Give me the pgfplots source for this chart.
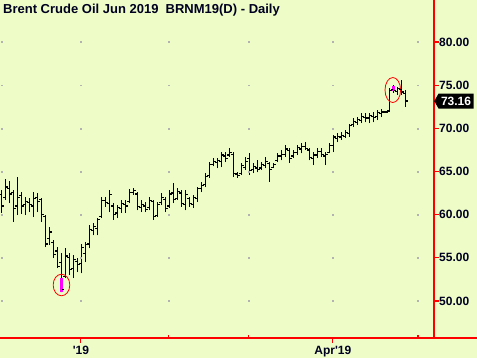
\documentclass[border=0pt]{standalone}
\usepackage{pgfplots}
\pgfplotsset{compat=1.18}
\usepackage{pgfplotstable}
\usepackage{fontspec}
\setmainfont{Liberation Sans}
\usetikzlibrary{shapes.symbols}
\definecolor{bgc}{RGB}{238,252,200}
\definecolor{txt}{RGB}{0,0,32}
\definecolor{mag}{RGB}{255,0,255}

\pgfplotstableread{
i hi lo op cl
0 62.85 60.2 62.3 61.0
1 64.1 61.7 62.0 63.2
2 63.9 61.35 63.0 62.4
3 62.85 59.15 62.6 60.7
4 64.35 59.95 61.0 62.0
5 62.6 60.1 62.2 61.0
6 62.0 59.95 61.2 61.5
7 61.9 60.3 61.4 61.2
8 62.6 59.7 61.0 61.9
9 62.5 60.3 62.0 61.5
10 61.9 59.15 61.8 60.0
11 60.0 56.25 59.8 56.6
12 58.6 56.5 57.2 58.0
13 57.1 55.0 56.8 55.4
14 56.25 53.8 55.8 54.0
15 55.55 51.0 54.5 51.3
16 56.1 52.65 52.8 55.2
17 55.5 53.0 55.0 53.6
18 55.3 52.65 53.8 54.8
19 55.0 53.35 54.6 54.2
20 56.6 53.2 54.3 56.2
21 56.8 54.5 55.5 56.5
22 58.8 56.1 56.6 58.3
23 59.0 57.6 58.2 58.6
24 59.6 57.6 58.4 59.4
25 62.0 59.6 59.8 61.6
26 62.0 60.9 61.6 61.4
27 62.85 60.3 61.3 62.3
28 61.35 59.4 61.0 60.0
29 61.1 59.6 60.2 60.8
30 61.7 60.2 60.7 61.3
31 61.7 60.2 61.2 61.0
32 63.0 61.35 61.5 62.6
33 63.1 62.3 62.6 62.8
34 62.6 60.5 62.4 60.9
35 61.7 60.3 60.8 61.2
36 61.5 60.3 61.0 60.6
37 62.0 60.5 60.8 61.6
38 61.7 59.4 61.5 59.8
39 61.5 59.7 59.9 61.2
40 62.5 61.1 61.4 62.0
41 62.0 60.3 61.8 60.7
42 62.85 60.8 61.0 62.4
43 63.65 61.35 62.5 61.8
44 63.1 61.7 61.9 62.7
45 62.85 60.9 62.5 61.3
46 62.85 60.5 61.2 62.3
47 62.0 60.9 61.9 61.3
48 62.3 60.8 61.2 62.0
49 63.2 61.5 61.9 63.0
50 63.8 62.6 63.0 63.4
51 64.8 63.2 63.5 64.4
52 66.1 64.3 64.5 65.8
53 66.6 65.6 65.8 66.2
54 66.55 65.4 66.0 66.3
55 67.25 65.5 66.2 66.9
56 67.25 66.1 66.8 66.5
57 67.7 66.7 66.9 67.2
58 67.25 64.35 67.0 64.8
59 64.9 64.25 64.7 64.5
60 66.0 64.6 64.8 65.7
61 66.7 65.2 65.5 66.2
62 67.1 64.6 66.5 65.1
63 66.0 64.8 65.2 65.6
64 66.3 64.9 65.4 65.2
65 66.1 65.2 65.4 65.8
66 66.7 65.4 65.7 66.2
67 66.1 63.8 65.9 65.2
68 66.0 65.4 65.5 65.8
69 67.1 66.1 66.3 66.8
70 67.5 66.3 66.8 67.0
71 68.1 66.7 67.0 67.6
72 67.7 66.0 67.4 66.5
73 67.5 66.55 66.8 67.2
74 68.1 66.9 67.2 67.8
75 68.3 67.1 67.6 67.9
76 68.4 67.5 67.9 67.7
77 67.7 66.3 67.5 66.6
78 67.25 65.75 66.5 66.9
79 67.7 66.55 66.9 67.3
80 67.7 66.7 67.3 67.0
81 67.25 65.75 66.8 67.0
82 68.3 67.1 67.2 68.0
83 69.2 67.25 68.0 69.0
84 69.45 68.4 68.8 69.1
85 69.6 68.65 69.0 69.2
86 69.8 68.9 69.1 69.5
87 70.5 69.0 69.4 70.3
88 71.2 70.15 70.4 70.8
89 71.3 70.4 70.7 71.0
90 71.8 70.6 70.9 71.4
91 71.8 70.7 71.3 71.2
92 71.8 70.6 71.2 71.5
93 71.9 70.7 71.4 71.3
94 72.1 70.95 71.4 71.8
95 72.2 71.3 71.7 71.9
96 72.0 71.8 71.9 71.9
97 74.7 71.9 72.0 74.4
98 75.0 74.1 74.5 74.4
99 74.8 73.9 74.3 74.6
100 75.6 73.9 74.5 74.2
101 74.4 72.5 74.0 73.16
}\bars

\pgfplotstableread{
i lo hi
15 51.0 52.65
98 74.37 74.95
}\magbars

\begin{document}
\begin{tikzpicture}
\useasboundingbox (0,-20pt) rectangle (477pt,338pt);
\fill[bgc] (0,-20pt) rectangle (477pt,338pt);
\begin{axis}[
  at={(0,0)}, anchor=south west,
  width=434pt, height=338pt, scale only axis,
  xmin=-0.325, xmax=108.2, ymin=45.71, ymax=84.87,
  axis x line*=bottom, axis y line*=right,
  axis line style={red, line width=1.2pt, -},
  clip=false,
  tick align=outside,
  major tick length=5pt,
  tick style={red, line width=1.2pt},
  ytick={50,55,...,80},
  yticklabel style={font=\fontsize{12}{14}\selectfont\bfseries, text=txt, anchor=west, inner sep=0pt,
    /pgf/number format/fixed, /pgf/number format/fixed zerofill,
    /pgf/number format/precision=2, /pgf/number format/assume math mode=true},
  xtick={19.9,82.9},
  xticklabels={\textquotesingle19, Apr\textquotesingle19},
  xticklabel style={font=\fontsize{12}{14}\selectfont\bfseries, text=txt},
  extra x ticks={41.9,61.9,104.2},
  extra x tick labels={},
  extra x tick style={tick align=inside, major tick length=2.5pt},
]
% grid dots
\addplot[only marks, mark=square*, mark size=0.45pt, color=gray!60, forget plot] coordinates {
(0.1,50) (0.1,55) (0.1,60) (0.1,65) (0.1,70) (0.1,75) (0.1,80)
(19.9,50) (19.9,55) (19.9,60) (19.9,65) (19.9,70) (19.9,75) (19.9,80)
(41.9,50) (41.9,55) (41.9,60) (41.9,65) (41.9,70) (41.9,75) (41.9,80)
(61.9,50) (61.9,55) (61.9,60) (61.9,65) (61.9,70) (61.9,75) (61.9,80)
(82.9,50) (82.9,55) (82.9,60) (82.9,65) (82.9,70) (82.9,75) (82.9,80)
(104.2,50) (104.2,55) (104.2,60) (104.2,65) (104.2,70) (104.2,75) (104.2,80)
};
% high-low bars
\addplot[draw=none, mark=none, forget plot,
  error bars/.cd, y dir=plus, y explicit, error mark=none,
  error bar style={draw=black, line width=1.2pt, solid}]
  table[x=i, y=lo, y error plus expr=\thisrow{hi}-\thisrow{lo}] {\bars};
% open ticks
\addplot[only marks, mark=-, mark size=1pt, forget plot,
  mark options={draw=black, line width=1.2pt, xshift=-1.3pt}]
  table[x=i, y=op] {\bars};
% close ticks
\addplot[only marks, mark=-, mark size=1pt, forget plot,
  mark options={draw=black, line width=1.2pt, xshift=1.3pt}]
  table[x=i, y=cl] {\bars};
% magenta highlights
\addplot[draw=none, mark=none, forget plot,
  error bars/.cd, y dir=plus, y explicit, error mark=none,
  error bar style={draw=mag, line width=3pt, solid}]
  table[x=i, y=lo, y error plus expr=\thisrow{hi}-\thisrow{lo}] {\magbars};
\draw[red, line width=0.8pt] (axis cs:15.05,51.85) ellipse [x radius=8.3pt, y radius=10.8pt];
\draw[red, line width=0.8pt] (axis cs:97.9,74.44) ellipse [x radius=7.8pt, y radius=12.5pt];
\node[signal, signal to=west, signal pointer angle=120, fill=black, text=white,
  font=\fontsize{12}{14}\selectfont\bfseries, inner xsep=2.5pt, inner ysep=3.2pt, anchor=west]
  at (axis cs:108.2,73.16) {73.16};
\end{axis}
\draw[red, line width=1.2pt] (0,0) -- (477pt,0);
\node[anchor=base west, inner sep=0pt, font=\fontsize{13}{15}\selectfont\bfseries, text=txt]
  at (3pt,324.5pt) {Brent Crude Oil Jun 2019\ \ BRNM19(D) - Daily};
\end{tikzpicture}
\end{document}
